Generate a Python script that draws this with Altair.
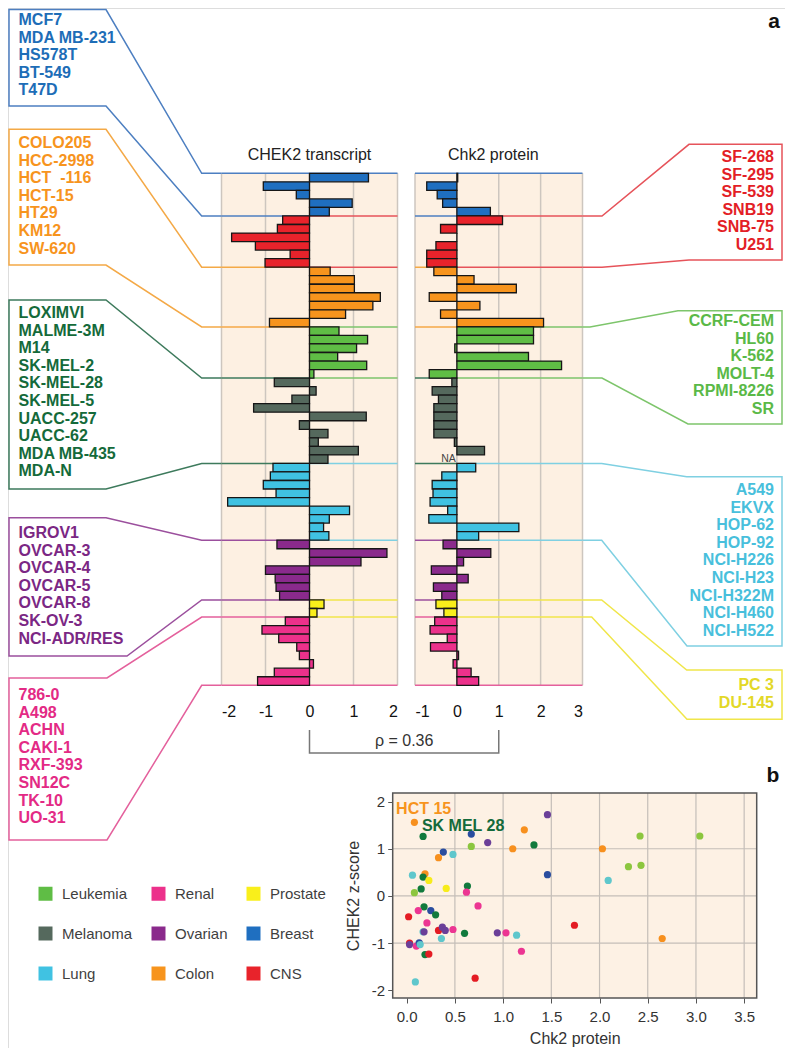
import altair as alt
import pandas as pd

FONT = "Liberation Sans"

# ---------------- data ----------------
groups = ["Breast", "CNS", "Colon", "Leukemia", "Melanoma", "Lung", "Ovarian", "Prostate", "Renal"]
left_groups = ["Breast", "Colon", "Melanoma", "Ovarian", "Renal"]
right_groups = ["CNS", "Leukemia", "Lung", "Prostate"]
legend_order = ["Leukemia", "Melanoma", "Lung", "Renal", "Ovarian", "Colon", "Prostate", "Breast", "CNS"]

breast_cells = ["MCF7", "MDA MB-231", "HS578T", "BT-549", "T47D"]
cns_cells = ["SF-268", "SF-295", "SF-539", "SNB19", "SNB-75", "U251"]
colon_cells = ["COLO205", "HCC-2998", "HCT\u00a0\u00a0-116", "HCT-15", "HT29", "KM12", "SW-620"]
leukemia_cells = ["CCRF-CEM", "HL60", "K-562", "MOLT-4", "RPMI-8226", "SR"]
melanoma_cells = ["LOXIMVI", "MALME-3M", "M14", "SK-MEL-2", "SK-MEL-28", "SK-MEL-5",
                  "UACC-257", "UACC-62", "MDA MB-435", "MDA-N"]
lung_cells = ["A549", "EKVX", "HOP-62", "HOP-92", "NCI-H226", "NCI-H23", "NCI-H322M", "NCI-H460", "NCI-H522"]
ovarian_cells = ["IGROV1", "OVCAR-3", "OVCAR-4", "OVCAR-5", "OVCAR-8", "SK-OV-3", "NCI-ADR/RES"]
prostate_cells = ["PC 3", "DU-145"]
renal_cells = ["786-0", "A498", "ACHN", "CAKI-1", "RXF-393", "SN12C", "TK-10", "UO-31"]

breast_transcript = [1.34, -1.05, -0.30, 0.97, 0.45]
cns_transcript = [-0.61, -0.73, -1.77, -1.23, -0.44, -1.01]
colon_transcript = [0.47, 1.02, 1.02, 1.61, 1.44, 0.82, -0.91]
leukemia_transcript = [0.67, 1.32, 1.07, 0.64, 1.30, 0.10]
melanoma_transcript = [-0.80, 0.15, -0.40, -1.27, 1.29, -0.23, 0.42, 0.20, 1.11, 0.42]
lung_transcript = [-0.83, -0.89, -1.05, -0.76, -1.86, 0.91, 0.45, 0.32, 0.44]
ovarian_transcript = [-0.74, 1.76, 1.17, -1.00, -0.78, -0.76, -0.68]
prostate_transcript = [0.33, 0.17]
renal_transcript = [-0.55, -1.08, -0.70, -0.29, -0.23, 0.09, -0.80, -1.18]

breast_protein = [0.02, -0.72, -0.47, -0.34, 0.80]
cns_protein = [1.09, -0.39, 0.0, -0.50, -0.72, -0.72]
colon_protein = [-0.55, 0.41, 1.42, -0.66, 0.55, -0.39, 2.07]
leukemia_protein = [1.83, 1.83, -0.05, 1.71, 2.50, -0.66]
melanoma_protein = [-0.12, -0.59, -0.44, -0.55, -0.55, -0.55, -0.55, -0.06, 0.66, None]
lung_protein = [0.45, -0.36, -0.59, -0.57, -0.64, -0.22, -0.67, 1.48, 0.52]
ovarian_protein = [-0.33, 0.81, 0.16, -0.61, 0.27, -0.56, -0.36]
prostate_protein = [-0.50, -0.31]
renal_protein = [-0.53, -0.64, -0.23, -0.63, 0.04, -0.09, 0.34, 0.52]

scatter_protein = [0.08, 1.46, 1.22, 0.17, 0.67, 2.42, 3.04, 0.84, 1.32, 0.67,
                   1.10, 2.03, 0.38, 0.48, 0.33, 2.30, 2.43, 0.06, 0.19, 0.17,
                   0.23, 1.46, 2.09, 0.15, 0.41, 0.63, 0.08, 0.62, 0.18, 0.74,
                   0.25, 0.12, 0.30, 0.02, 0.21, 1.74, 0.17, 0.18, 0.33, 0.37,
                   0.40, 0.48, 0.60, 0.94, 1.03, 1.14, 0.36, 2.65, 0.03, 0.03,
                   0.10, 0.13, 0.14, 1.19, 0.19, 0.23, 0.71, 0.09]
scatter_zscore = [1.56, 1.72, 1.40, 1.26, 1.31, 1.27, 1.27, 1.13, 1.08, 1.05,
                  1.00, 1.00, 0.93, 0.88, 0.81, 0.62, 0.65, 0.44, 0.47, 0.40,
                  0.33, 0.45, 0.33, 0.15, 0.16, 0.21, 0.07, 0.08, -0.23, -0.21,
                  -0.31, -0.31, -0.40, -0.44, -0.57, -0.62, -0.76, -0.76, -0.73, -0.66,
                  -0.73, -0.71, -0.79, -0.78, -0.78, -0.83, -0.90, -0.90, -1.00, -1.03,
                  -1.06, -0.99, -1.03, -1.17, -1.24, -1.23, -1.74, -1.82]
scatter_group = ["Colon", "Ovarian", "Colon", "Melanoma", "Breast", "Leukemia", "Leukemia", "Ovarian", "Melanoma", "Leukemia",
                 "Colon", "Colon", "Breast", "Lung", "Colon", "Leukemia", "Leukemia", "Lung", "Colon", "Melanoma",
                 "Prostate", "Breast", "Lung", "Melanoma", "Prostate", "Melanoma", "Leukemia", "Renal", "Melanoma", "Renal",
                 "Breast", "Renal", "Melanoma", "CNS", "Renal", "CNS", "Lung", "Ovarian", "CNS", "Ovarian",
                 "Ovarian", "Renal", "Melanoma", "Ovarian", "Renal", "Lung", "Lung", "Colon", "CNS", "Ovarian",
                 "Renal", "Breast", "Lung", "Renal", "Melanoma", "CNS", "CNS", "Lung"]
scatter_notes = ["HCT 15", "SK MEL 28"]
scatter_note_protein = [-0.11, 0.158]
scatter_note_zscore = [1.84, 1.48]
rho_text = "ρ = 0.36"

# ---------------- styles ----------------
bar_colors = {"Breast": "#1f6fc0", "CNS": "#e8232b", "Colon": "#f7941d", "Leukemia": "#5fbd45",
              "Melanoma": "#55695d", "Lung": "#40c2e2", "Ovarian": "#8a2a8c", "Prostate": "#f9ef1b",
              "Renal": "#ec318b"}
text_colors = {"Breast": "#1d6db7", "CNS": "#e31e26", "Colon": "#f7941d", "Leukemia": "#5ab947",
               "Melanoma": "#146a3a", "Lung": "#48bfdc", "Ovarian": "#7b2784", "Prostate": "#e3d827",
               "Renal": "#e32a85"}
line_colors = {"Breast": "#4d7fc1", "CNS": "#e6535a", "Colon": "#f4a947", "Leukemia": "#7dc56b",
               "Melanoma": "#3d7a5c", "Lung": "#7fd0e2", "Ovarian": "#9b4f9d", "Prostate": "#f0e64a",
               "Renal": "#e4609c"}
scatter_colors = {"Breast": "#2a4d9f", "CNS": "#e41c23", "Colon": "#f7901e", "Leukemia": "#8cc63f",
                  "Melanoma": "#117a3d", "Lung": "#5fc7cc", "Ovarian": "#6b3f98", "Prostate": "#f7ec1b",
                  "Renal": "#ec3592"}

# ---------------- tables ----------------
cells = dict(zip(groups, [breast_cells, cns_cells, colon_cells, leukemia_cells, melanoma_cells,
                          lung_cells, ovarian_cells, prostate_cells, renal_cells]))
transcript = dict(zip(groups, [breast_transcript, cns_transcript, colon_transcript, leukemia_transcript,
                               melanoma_transcript, lung_transcript, ovarian_transcript,
                               prostate_transcript, renal_transcript]))
protein = dict(zip(groups, [breast_protein, cns_protein, colon_protein, leukemia_protein,
                            melanoma_protein, lung_protein, ovarian_protein, prostate_protein,
                            renal_protein]))

recs, starts, ends = [], {}, {}
r = 0
for g in groups:
    starts[g] = r
    for name, t, p in zip(cells[g], transcript[g], protein[g]):
        recs.append({"cell": name, "group": g, "row": r, "transcript": t, "protein": p})
        r += 1
    ends[g] = r
N = r
bars = pd.DataFrame(recs)

# ---------------- layout (pixels inside the chart) ----------------
W_ALL, H_ALL = 777.0, 1040.0
P1 = (213.5, 389.5)      # transcript panel, x pixel range
P2 = (407.0, 574.5)      # protein panel, x pixel range
PT, RH = 165.3, 8.533
PB = PT + N * RH
S_X = (384.7, 748.7)     # scatter x pixel range
S_Y = (990.0, 785.0)     # scatter y pixel range (bottom, top)


def rowy(rw):
    return PT + rw * RH


LINE_SP = 17.6
LEFT_BOX_X, LEFT_DIAG_X, LEFT_TEXT_X = 1.0, 193.7, 10.5
RIGHT_BOX_X, RIGHT_TEXT_X = 774.0, 766.0
left_layout = {
    "Breast": dict(text0=12, top=1.5, bot=98, ct=98, cb=98),
    "Colon": dict(text0=135, top=121.3, bot=257, ct=98, cb=98),
    "Melanoma": dict(text0=305, top=292, bot=481, ct=98, cb=98),
    "Ovarian": dict(text0=525, top=509.7, bot=648, ct=98, cb=119),
    "Renal": dict(text0=687, top=670, bot=832, ct=99, cb=99),
}
right_layout = {
    "CNS": dict(text0=149, top=136.3, bot=252, ct=681, cb=681, dt=594, db=594),
    "Leukemia": dict(text0=313, top=302.7, bot=416, ct=670, cb=680, dt=582, db=594),
    "Lung": dict(text0=482, top=468.7, bot=638, ct=678.7, cb=679, dt=593.7, db=593.7),
    "Prostate": dict(text0=677, top=662, bot=711.3, ct=678.7, cb=679, dt=593.7, db=583.7),
}

ys_panel = alt.Scale(domain=[0, N], range=[PT, PB], nice=False, zero=False)
ix = alt.Scale(domain=[0, W_ALL], range=[0, W_ALL], nice=False, zero=False)
iy = alt.Scale(domain=[0, H_ALL], range=[0, H_ALL], nice=False, zero=False)

bmap = {}
for g in groups:
    side = "L" if g in left_groups else "R"
    for rw in (starts[g], ends[g]):
        bmap.setdefault(rw, {})[side] = g


def boundary_df(xmin, xmax):
    out = []
    for rw, d in sorted(bmap.items()):
        if "L" in d and "R" in d:
            out.append({"x": xmin, "x2": 0, "y": rw, "c": line_colors[d["L"]]})
            out.append({"x": 0, "x2": xmax, "y": rw, "c": line_colors[d["R"]]})
        else:
            g = d.get("L") or d.get("R")
            out.append({"x": xmin, "x2": xmax, "y": rw, "c": line_colors[g]})
    return pd.DataFrame(out)


legend = alt.Legend(orient="none", legendX=30, legendY=878, columns=3,
                    symbolType="square", symbolSize=196, symbolStrokeWidth=0,
                    labelFontSize=15, labelFont=FONT, labelColor="#3f3f3f", title=None,
                    columnPadding=18, rowPadding=24, labelOffset=9, padding=0)
bar_scale = alt.Scale(domain=legend_order, range=[bar_colors[g] for g in legend_order])


def panel(field, xmin, xmax, prange, ticks, title_text, title_x, leg, with_na=False):
    xs = alt.Scale(domain=[xmin, xmax], range=list(prange), nice=False, zero=False)
    xax = alt.Axis(orient="bottom", offset=-(H_ALL - PB), values=ticks, labelExpr="datum.value + ''",
                   ticks=False, domain=False, grid=False, labelFontSize=16, labelColor="#111",
                   labelPadding=18, labelFont=FONT, title=None)

    def X(f):
        return alt.X(f, scale=xs, axis=xax, title=None)

    def Y(f):
        return alt.Y(f, scale=ys_panel, axis=None, title=None)

    bg = alt.Chart(pd.DataFrame({"x": [xmin], "x2": [xmax], "y": [0], "y2": [N]})).mark_rect(
        fill="#fdf0e2").encode(x=X("x:Q"), x2="x2:Q", y=Y("y:Q"), y2="y2:Q")
    grid = alt.Chart(pd.DataFrame({"x": ticks, "y": [0] * len(ticks), "y2": [N] * len(ticks)})).mark_rule(
        color="#cdc6bf", strokeWidth=1.5).encode(x=X("x:Q"), y=Y("y:Q"), y2="y2:Q")
    blines = alt.Chart(boundary_df(xmin, xmax)).mark_rule(strokeWidth=1.5).encode(
        x=X("x:Q"), x2="x2:Q", y=Y("y:Q"), stroke=alt.Stroke("c:N", scale=None))
    bl = alt.Chart(bars.dropna(subset=[field])).transform_calculate(
        row2="datum.row + 1", zero="0").mark_bar(stroke="#161616", strokeWidth=1.3).encode(
        x=X(f"{field}:Q"), x2="zero:Q", y=Y("row:Q"), y2="row2:Q",
        color=alt.Color("group:N", scale=bar_scale, legend=leg))
    ttl = alt.Chart(pd.DataFrame({"t": [title_text], "x": [title_x], "y": [(147 - PT) / RH]})).mark_text(
        fontSize=16, font=FONT, color="#222").encode(x=X("x:Q"), y=Y("y:Q"), text="t:N")
    layers = [bg, grid, blines, bl, ttl]
    if with_na:
        na_df = bars[bars["protein"].isna()][["cell", "row"]]
        layers.append(alt.Chart(na_df).transform_calculate(zero="0", mid="datum.row + 0.5").mark_text(
            align="right", dx=-1, fontSize=10.5, font=FONT, color="#444").encode(
            x=X("zero:Q"), y=Y("mid:Q"), text=alt.value("NA")))
    return alt.layer(*layers)


left_panel = panel("transcript", -2, 2, P1, [-2, -1, 0, 1, 2], "CHEK2 transcript", 0, legend)
right_panel = panel("protein", -1, 3, P2, [-1, 0, 1, 2, 3], "Chk2 protein", 0.87, None, with_na=True)

# ---------------- annotation layer (labels, brackets, panel letters) ----------------
lrec, trec_l, trec_r = [], [], []
for g in left_groups:
    L = left_layout[g]
    pts = [(P1[0], rowy(starts[g])), (LEFT_DIAG_X, rowy(starts[g])), (L["ct"], L["top"]),
           (LEFT_BOX_X, L["top"]), (LEFT_BOX_X, L["bot"]), (L["cb"], L["bot"]),
           (LEFT_DIAG_X, rowy(ends[g])), (P1[0], rowy(ends[g]))]
    for i, (px, py) in enumerate(pts):
        lrec.append({"gid": g, "seq": i, "x": px, "y": py, "c": line_colors[g]})
    for i, name in enumerate(cells[g]):
        trec_l.append({"t": name, "x": LEFT_TEXT_X, "y": L["text0"] + i * LINE_SP, "c": text_colors[g]})
for g in right_groups:
    R = right_layout[g]
    pts = [(P2[1], rowy(starts[g])), (R["dt"], rowy(starts[g])), (R["ct"], R["top"]),
           (RIGHT_BOX_X, R["top"]), (RIGHT_BOX_X, R["bot"]), (R["cb"], R["bot"]),
           (R["db"], rowy(ends[g])), (P2[1], rowy(ends[g]))]
    for i, (px, py) in enumerate(pts):
        lrec.append({"gid": g, "seq": i, "x": px, "y": py, "c": line_colors[g]})
    for i, name in enumerate(cells[g]):
        trec_r.append({"t": name, "x": RIGHT_TEXT_X, "y": R["text0"] + i * LINE_SP, "c": text_colors[g]})

# rho bracket joins the centre of both panels (0 on transcript, 1 on protein)
x_l = P1[0] + (0 - (-2)) / 4 * (P1[1] - P1[0])
x_r = P2[0] + (1 - (-1)) / 4 * (P2[1] - P2[0])
for i, (px, py) in enumerate([(x_l, 722), (x_l, 745), (x_r, 745), (x_r, 722)]):
    lrec.append({"gid": "rho", "seq": i, "x": px, "y": py, "c": "#777777"})

IX = lambda f: alt.X(f, scale=ix, axis=None, title=None)
IY = lambda f: alt.Y(f, scale=iy, axis=None, title=None)
ann_lines = alt.Chart(pd.DataFrame(lrec)).mark_line(strokeWidth=1.5).encode(
    x=IX("x:Q"), y=IY("y:Q"), detail="gid:N", order="seq:Q", stroke=alt.Stroke("c:N", scale=None))
ann_text_l = alt.Chart(pd.DataFrame(trec_l)).mark_text(
    align="left", baseline="middle", fontSize=16, fontWeight="bold", font=FONT).encode(
    x=IX("x:Q"), y=IY("y:Q"), text="t:N", fill=alt.Fill("c:N", scale=None))
ann_text_r = alt.Chart(pd.DataFrame(trec_r)).mark_text(
    align="right", baseline="middle", fontSize=16, fontWeight="bold", font=FONT).encode(
    x=IX("x:Q"), y=IY("y:Q"), text="t:N", fill=alt.Fill("c:N", scale=None))
misc = pd.DataFrame({"t": ["a", "b"], "x": [766, 765], "y": [20, 774]})
ann_letters = alt.Chart(misc).mark_text(
    fontSize=21, fontWeight="bold", font=FONT, color="#111", baseline="alphabetic").encode(
    x=IX("x:Q"), y=IY("y:Q"), text="t:N")
ann_rho = alt.Chart(pd.DataFrame({"t": [rho_text], "x": [(x_l + x_r) / 2], "y": [733]})).mark_text(
    fontSize=16, font=FONT, color="#333", baseline="middle").encode(x=IX("x:Q"), y=IY("y:Q"), text="t:N")
annotations = alt.layer(ann_lines, ann_text_l, ann_text_r, ann_letters, ann_rho)

# ---------------- scatter ----------------
sdf = pd.DataFrame({"protein": scatter_protein, "zscore": scatter_zscore, "group": scatter_group})
SXD = [-0.145, 3.63]
SYD = [-2.16, 2.18]
sx = alt.Scale(domain=SXD, range=list(S_X), nice=False, zero=False)
sy = alt.Scale(domain=SYD, range=list(S_Y), nice=False, zero=False)
xvals = [0.0, 0.5, 1.0, 1.5, 2.0, 2.5, 3.0, 3.5]
yvals = [-2, -1, 0, 1, 2]
sxax = alt.Axis(orient="bottom", offset=-(H_ALL - S_Y[0]), values=xvals, format=".1f", grid=False,
                domain=False, tickSize=5, tickColor="#555", labelFontSize=15, labelColor="#333",
                labelPadding=6, labelFont=FONT, title="Chk2 protein", titleFontSize=16,
                titleFontWeight="normal", titleColor="#333", titleFont=FONT, titlePadding=6)
syax = alt.Axis(orient="left", offset=-S_X[0], values=yvals, labelExpr="datum.value + ''", grid=False,
                domain=False, tickSize=5, tickColor="#555", labelFontSize=15, labelColor="#333",
                labelPadding=3, labelFont=FONT, title="CHEK2 z-score", titleFontSize=16,
                titleFontWeight="normal", titleColor="#333", titleFont=FONT, titlePadding=10)
SX = lambda f: alt.X(f, scale=sx, axis=sxax, title="Chk2 protein")
SY = lambda f: alt.Y(f, scale=sy, axis=syax, title="CHEK2 z-score")

box = pd.DataFrame({"x": [SXD[0]], "x2": [SXD[1]], "y": [SYD[0]], "y2": [SYD[1]]})
s_bg = alt.Chart(box).mark_rect(fill="#fdf1e4").encode(x=SX("x:Q"), x2="x2:Q", y=SY("y:Q"), y2="y2:Q")
vgrid = alt.Chart(pd.DataFrame({"x": xvals[1:], "y": SYD[0], "y2": SYD[1]})).mark_rule(
    color="#c4beb8", strokeWidth=1.2).encode(x=SX("x:Q"), y=SY("y:Q"), y2="y2:Q")
hgrid = alt.Chart(pd.DataFrame({"y": [-1, 0, 1], "x": SXD[0], "x2": SXD[1]})).mark_rule(
    color="#c4beb8", strokeWidth=1.2).encode(y=SY("y:Q"), x=SX("x:Q"), x2="x2:Q")
s_pts = alt.Chart(sdf).mark_circle(size=52, opacity=1).encode(
    x=SX("protein:Q"), y=SY("zscore:Q"),
    color=alt.Color("group:N", scale=alt.Scale(domain=groups, range=[scatter_colors[g] for g in groups]),
                    legend=None))
note1 = alt.Chart(pd.DataFrame({"t": [scatter_notes[0]], "x": [scatter_note_protein[0]],
                                "y": [scatter_note_zscore[0]]})).mark_text(
    align="left", fontSize=16, fontWeight="bold", font=FONT, color="#f7941d").encode(
    x=SX("x:Q"), y=SY("y:Q"), text="t:N")
note2 = alt.Chart(pd.DataFrame({"t": [scatter_notes[1]], "x": [scatter_note_protein[1]],
                                "y": [scatter_note_zscore[1]]})).mark_text(
    align="left", fontSize=16, fontWeight="bold", font=FONT, color="#146a3a").encode(
    x=SX("x:Q"), y=SY("y:Q"), text="t:N")
s_frame = alt.Chart(box).mark_rect(fillOpacity=0, stroke="#555", strokeWidth=1.5).encode(
    x=SX("x:Q"), x2="x2:Q", y=SY("y:Q"), y2="y2:Q")
scatter = alt.layer(s_bg, vgrid, hgrid, s_pts, note1, note2, s_frame)

chart = alt.layer(left_panel, right_panel, scatter, annotations).resolve_scale(
    x="independent", y="independent", color="independent", fill="independent", stroke="independent"
).properties(width=W_ALL, height=H_ALL, padding=0, background="white",
             autosize=alt.AutoSizeParams(type="none")).configure_view(strokeWidth=0).configure(font=FONT)

chart.save("out.html", embed_options={"renderer": "svg", "actions": False})
